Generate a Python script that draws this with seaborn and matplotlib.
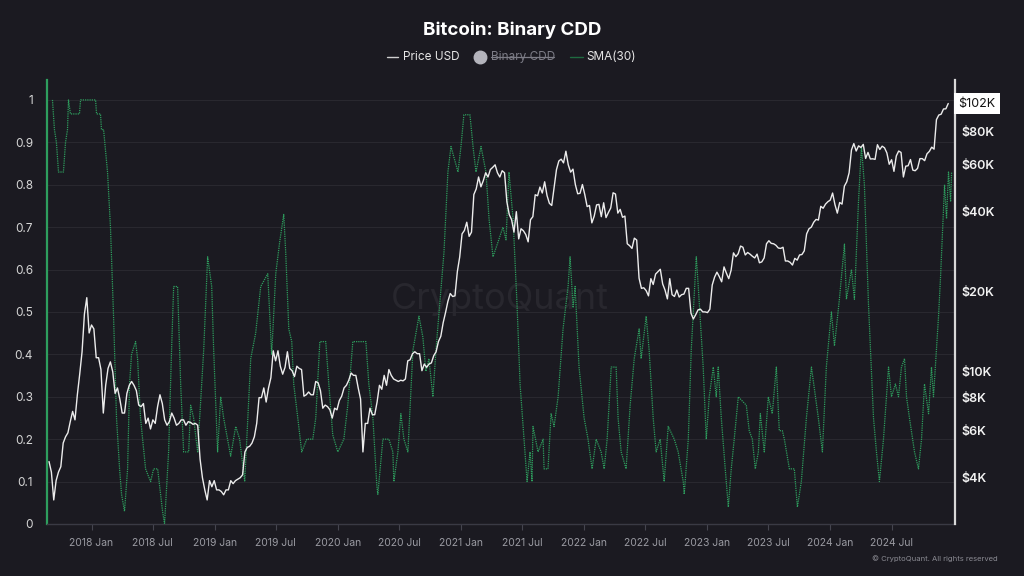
import matplotlib
matplotlib.use("Agg")
import matplotlib.pyplot as plt
from matplotlib.lines import Line2D
from matplotlib.ticker import NullLocator, NullFormatter
import numpy as np
import pandas as pd
import seaborn as sns

# Weekly BTC price (USD), Mondays starting 2017-08-28
price_2017 = [4600, 4200, 3300, 3900, 4200, 4400, 5400, 5700, 5900, 6500, 7100, 6600,
              8200, 9800, 11900, 16500, 19000, 14000]
price_2018 = [15000, 14500, 11300, 11300, 10200, 7000, 8900, 10300, 10900, 10000, 8300,
              8700, 7900, 7000, 7000, 8300, 8900, 9200, 8900, 8500, 7500, 7400, 7600,
              6400, 6700, 6100, 6600, 6400, 7400, 8200, 7600, 6600, 6300, 6500, 7000,
              6700, 6300, 6400, 6600, 6600, 6300, 6500, 6450, 6350, 6400, 6300, 4700,
              4000, 3600, 3300, 3900, 3700, 3900]
price_2019 = [3600, 3600, 3550, 3450, 3600, 3600, 3900, 3800, 3900, 3950, 4000, 4100,
              5000, 5200, 5250, 5400, 5700, 6400, 8000, 8000, 8700, 7700, 8700, 9500,
              12000, 11000, 12000, 10500, 9800, 10400, 11900, 10300, 10100, 9600, 10500,
              10300, 10200, 8100, 8200, 8400, 8200, 8200, 9200, 9100, 8500, 7300, 7500,
              7400, 7200, 6700, 7300, 7200]
price_2020 = [7800, 8100, 8700, 8900, 9300, 9900, 9700, 9700, 8700, 7900, 5000, 6400,
              6400, 7300, 6900, 6900, 7700, 8900, 8600, 9700, 8900, 10200, 9700, 9400,
              9300, 9200, 9300, 9250, 9400, 11000, 11100, 11700, 11900, 11700, 11700,
              10100, 10700, 10400, 10700, 10800, 11500, 11900, 13000, 13600, 15300,
              16700, 18400, 19700, 19200, 19300, 23800, 27000]
price_2021 = [33000, 34000, 36500, 32300, 33500, 46400, 48700, 54000, 49600, 52300,
              56000, 54000, 57600, 58700, 60000, 56000, 54000, 57000, 56000, 43500,
              39000, 37300, 33500, 40000, 31600, 34500, 33900, 32800, 30800, 37300,
              38300, 46300, 45900, 49500, 47000, 51800, 46000, 43000, 42200, 49100,
              57500, 62000, 63000, 61000, 67500, 60000, 56300, 57800, 50600, 46700,
              46900, 50600]
price_2022 = [46400, 41800, 42200, 36300, 38500, 42400, 42600, 38300, 43200, 38000,
              39700, 41300, 47100, 46600, 39500, 40800, 38100, 38500, 30300, 29800,
              29100, 31800, 31300, 22500, 20600, 20700, 20200, 19300, 22400, 21300,
              23300, 23800, 24300, 21400, 20300, 18800, 22400, 19500, 19200, 20300,
              19100, 19500, 19600, 20600, 20600, 16600, 15800, 16400, 17100, 17200,
              16800, 16800]
price_2023 = [16700, 17200, 21200, 22700, 23700, 22800, 21800, 24800, 23500, 22400,
              24100, 28000, 27100, 27800, 29700, 29400, 27500, 28100, 27700, 27200,
              26800, 27700, 25700, 25900, 26800, 30300, 31100, 30400, 30300, 29900,
              29200, 29100, 29400, 26100, 26100, 25800, 25200, 26700, 26300, 27500,
              27600, 28500, 33000, 34500, 35000, 36500, 37400, 37200, 41900, 41200,
              42700, 43600]
price_2024 = [44200, 47000, 42500, 39500, 43300, 42700, 49900, 51800, 56000, 68300,
              72100, 67600, 70700, 69700, 71600, 63400, 66800, 63100, 63200, 62900,
              71400, 68500, 70500, 69500, 66500, 60300, 62700, 56700, 64800, 67600,
              66800, 54000, 59300, 59500, 62800, 57300, 57000, 58200, 63300, 63300,
              62200, 66000, 67400, 69900, 68700, 88700, 92300, 93000, 97300, 97400,
              102000]

# Binary CDD, SMA(30): decimal year and value
cdd_year_2017 = [2017.683, 2017.699, 2017.715, 2017.732, 2017.772, 2017.789, 2017.805,
                 2017.813, 2017.829, 2017.902, 2017.911]
cdd_2017 = [1.0, 0.93, 0.90, 0.83, 0.83, 0.90, 0.93, 1.0, 0.967, 0.967, 1.0]
cdd_year_2018 = [2018.033, 2018.041, 2018.073, 2018.081, 2018.098, 2018.130, 2018.154,
                 2018.179, 2018.203, 2018.228, 2018.244, 2018.268, 2018.293, 2018.309,
                 2018.325, 2018.358, 2018.374, 2018.398, 2018.439, 2018.480, 2018.504,
                 2018.537, 2018.577, 2018.593, 2018.626, 2018.650, 2018.667, 2018.699,
                 2018.724, 2018.748, 2018.789, 2018.805, 2018.829, 2018.862, 2018.911,
                 2018.943, 2018.976, 2018.992]
cdd_2018 = [1.0, 0.967, 0.967, 0.93, 0.93, 0.83, 0.70, 0.49, 0.25, 0.13, 0.07, 0.03,
            0.13, 0.33, 0.40, 0.43, 0.39, 0.25, 0.13, 0.10, 0.13, 0.13, 0.03, 0.0,
            0.17, 0.41, 0.56, 0.56, 0.33, 0.17, 0.17, 0.28, 0.25, 0.17, 0.41, 0.63,
            0.56, 0.41]
cdd_year_2019 = [2019.024, 2019.049, 2019.073, 2019.130, 2019.171, 2019.203, 2019.244,
                 2019.293, 2019.333, 2019.374, 2019.431, 2019.463, 2019.496, 2019.528,
                 2019.561, 2019.577, 2019.602, 2019.626, 2019.642, 2019.675, 2019.707,
                 2019.748, 2019.797, 2019.821, 2019.854, 2019.902, 2019.927, 2019.959]
cdd_2019 = [0.17, 0.30, 0.25, 0.16, 0.23, 0.20, 0.10, 0.39, 0.45, 0.56, 0.59, 0.40,
            0.59, 0.665, 0.73, 0.64, 0.46, 0.43, 0.33, 0.25, 0.17, 0.20, 0.20, 0.25,
            0.43, 0.43, 0.33, 0.21]
cdd_year_2020 = [2020.000, 2020.049, 2020.081, 2020.122, 2020.228, 2020.252, 2020.285,
                 2020.317, 2020.325, 2020.366, 2020.415, 2020.447, 2020.455, 2020.488,
                 2020.512, 2020.537, 2020.569, 2020.610, 2020.659, 2020.691, 2020.715,
                 2020.740, 2020.772, 2020.797, 2020.862, 2020.894, 2020.919, 2020.976]
cdd_2020 = [0.17, 0.20, 0.28, 0.43, 0.43, 0.33, 0.25, 0.09, 0.07, 0.20, 0.20, 0.17,
            0.10, 0.17, 0.26, 0.20, 0.17, 0.41, 0.49, 0.44, 0.36, 0.39, 0.30, 0.41,
            0.64, 0.83, 0.89, 0.83]
cdd_year_2021 = [2021.000, 2021.024, 2021.073, 2021.098, 2021.122, 2021.163, 2021.203,
                 2021.228, 2021.260, 2021.301, 2021.341, 2021.366, 2021.390, 2021.423,
                 2021.455, 2021.480, 2021.512, 2021.537, 2021.561, 2021.577, 2021.585,
                 2021.626, 2021.667, 2021.675, 2021.707, 2021.732, 2021.756, 2021.789,
                 2021.829, 2021.870, 2021.886, 2021.911, 2021.927, 2021.959]
cdd_2021 = [0.89, 0.965, 0.965, 0.89, 0.83, 0.89, 0.83, 0.72, 0.63, 0.665, 0.70, 0.67,
            0.83, 0.72, 0.52, 0.33, 0.20, 0.10, 0.17, 0.10, 0.23, 0.17, 0.20, 0.13,
            0.13, 0.26, 0.23, 0.30, 0.46, 0.56, 0.63, 0.51, 0.56, 0.37]
cdd_year_2022 = [2022.000, 2022.032, 2022.065, 2022.098, 2022.138, 2022.163, 2022.187,
                 2022.220, 2022.260, 2022.276, 2022.301, 2022.341, 2022.374, 2022.407,
                 2022.447, 2022.463, 2022.504, 2022.528, 2022.561, 2022.585, 2022.618,
                 2022.650, 2022.683, 2022.732, 2022.764, 2022.805, 2022.813, 2022.846,
                 2022.870, 2022.911, 2022.927, 2022.967, 2022.992]
cdd_2022 = [0.25, 0.20, 0.13, 0.20, 0.17, 0.13, 0.20, 0.37, 0.37, 0.25, 0.17, 0.13,
            0.28, 0.39, 0.46, 0.39, 0.49, 0.41, 0.25, 0.17, 0.20, 0.10, 0.23, 0.20,
            0.17, 0.10, 0.07, 0.20, 0.41, 0.63, 0.56, 0.37, 0.20]
cdd_year_2023 = [2023.016, 2023.049, 2023.073, 2023.089, 2023.114, 2023.146, 2023.171,
                 2023.195, 2023.219, 2023.252, 2023.317, 2023.341, 2023.366, 2023.390,
                 2023.415, 2023.431, 2023.463, 2023.496, 2023.528, 2023.561, 2023.585,
                 2023.610, 2023.626, 2023.667, 2023.707, 2023.732, 2023.764, 2023.805,
                 2023.846, 2023.902, 2023.935, 2023.967]
cdd_2023 = [0.30, 0.37, 0.30, 0.37, 0.25, 0.13, 0.04, 0.13, 0.20, 0.30, 0.28, 0.22,
            0.20, 0.13, 0.17, 0.26, 0.17, 0.30, 0.26, 0.37, 0.22, 0.22, 0.20, 0.13,
            0.13, 0.04, 0.10, 0.25, 0.37, 0.25, 0.17, 0.37]
cdd_year_2024 = [2024.008, 2024.033, 2024.073, 2024.114, 2024.130, 2024.171, 2024.195,
                 2024.228, 2024.252, 2024.276, 2024.309, 2024.350, 2024.374, 2024.398,
                 2024.431, 2024.455, 2024.472, 2024.496, 2024.528, 2024.553, 2024.577,
                 2024.602, 2024.618, 2024.642, 2024.683, 2024.715, 2024.740, 2024.764,
                 2024.797, 2024.821, 2024.837, 2024.878, 2024.894, 2024.927, 2024.943,
                 2024.959, 2024.976, 2024.984]
cdd_2024 = [0.50, 0.42, 0.53, 0.66, 0.53, 0.60, 0.53, 0.76, 0.89, 0.80, 0.52, 0.25,
            0.17, 0.10, 0.20, 0.30, 0.37, 0.30, 0.33, 0.30, 0.37, 0.39, 0.30, 0.25,
            0.17, 0.13, 0.20, 0.33, 0.26, 0.37, 0.30, 0.49, 0.58, 0.80, 0.72, 0.83,
            0.76, 0.83]

cdd_ticks = [0, 0.1, 0.2, 0.3, 0.4, 0.5, 0.6, 0.7, 0.8, 0.9, 1.0]
cdd_tick_labels = ["0", "0.1", "0.2", "0.3", "0.4", "0.5", "0.6", "0.7", "0.8", "0.9", "1"]
price_ticks = [4000, 6000, 8000, 10000, 20000, 40000, 60000, 80000]
price_tick_labels = ["$4K", "$6K", "$8K", "$10K", "$20K", "$40K", "$60K", "$80K"]
last_price_label = "$102K"

# assemble series
price = (price_2017 + price_2018 + price_2019 + price_2020 + price_2021 + price_2022
         + price_2023 + price_2024)
price_dates = pd.date_range("2017-08-28", periods=len(price), freq="W-MON")

cdd_year = np.array(cdd_year_2017 + cdd_year_2018 + cdd_year_2019 + cdd_year_2020
                    + cdd_year_2021 + cdd_year_2022 + cdd_year_2023 + cdd_year_2024)
cdd = cdd_2017 + cdd_2018 + cdd_2019 + cdd_2020 + cdd_2021 + cdd_2022 + cdd_2023 + cdd_2024
cdd_dates = pd.Timestamp("2018-01-01") + pd.to_timedelta((cdd_year - 2018) * 365.25, unit="D")

x_ticks = pd.date_range("2018-01-01", "2024-07-01", freq="6MS")
x_tick_labels = [d.strftime("%Y %b") for d in x_ticks]

BG = "#1b1a21"
GREEN = "#2e9e5e"
GRID = "#29282f"

sns.set_theme(style="dark")
plt.rcParams["font.family"] = ["Inter", "DejaVu Sans"]

fig = plt.figure(figsize=(10.24, 5.76), dpi=100, facecolor=BG)
ax = fig.add_axes([0.0459, 0.0903, 0.8867, 0.7708])
ax.set_facecolor(BG)
ax2 = ax.twinx()

ax.text(0.499, 0.505, "CryptoQuant", transform=ax.transAxes, fontsize=26,
        color="#28272e", ha="center", va="center", zorder=0)

sns.lineplot(x=cdd_dates, y=cdd, ax=ax, color=GREEN, linewidth=0.9,
             linestyle=(0, (1, 0.8)))
sns.lineplot(x=price_dates, y=price, ax=ax2, color="#ececec", linewidth=1.0)

ax.set_xlim(pd.Timestamp("2017-08-22"), pd.Timestamp("2025-01-05"))
ax.set_ylim(0, 1.047)
ax2.set_yscale("log")
ax2.set_ylim(2680, 125000)

ax.set_xlabel("")
ax.set_ylabel("")
ax2.set_ylabel("")

ax.set_yticks(cdd_ticks)
ax.set_yticklabels(cdd_tick_labels, color="#d6d6d6", fontsize=8.5)
ax.tick_params(axis="y", length=0, pad=10)
ax.set_xticks(x_ticks)
ax.set_xticklabels(x_tick_labels, color="#9a9aa2", fontsize=7.5)
ax.tick_params(axis="x", length=4, width=0.8, color="#45454f", pad=6, direction="out",
               bottom=True)

ax2.yaxis.set_minor_locator(NullLocator())
ax2.yaxis.set_minor_formatter(NullFormatter())
ax2.set_yticks(price_ticks)
ax2.set_yticklabels(price_tick_labels, color="#f2f2f2", fontsize=9, fontweight="semibold")
ax2.tick_params(axis="y", length=0, pad=5)

ax.grid(axis="y", color=GRID, linewidth=0.8)
ax.grid(axis="x", visible=False)
ax2.grid(False)

for side in ["top", "right"]:
    ax.spines[side].set_visible(False)
ax.spines["left"].set_color(GREEN)
ax.spines["left"].set_linewidth(1.6)
ax.spines["bottom"].set_color("#3a3a44")
ax.spines["bottom"].set_linewidth(1.0)
for side in ["top", "left", "bottom"]:
    ax2.spines[side].set_visible(False)
ax2.spines["right"].set_color("#d8d8d8")
ax2.spines["right"].set_linewidth(1.6)

# current price tag
ax2.text(1.004, price[-1], last_price_label, transform=ax2.get_yaxis_transform(),
         ha="left", va="center", fontsize=9, color="#111111",
         bbox=dict(boxstyle="square,pad=0.35", fc="white", ec="none"))

# title and legend
fig.text(0.5, 0.948, "Bitcoin: Binary CDD", ha="center", va="center", fontsize=13.5,
         fontweight="bold", color="white")
ly = 0.901
fig.add_artist(Line2D([387 / 1024, 398 / 1024], [ly, ly], color="#cfcfcf", lw=1,
                      transform=fig.transFigure))
fig.text(403 / 1024, ly, "Price USD", ha="left", va="center", fontsize=8.5, color="#e6e6e6")
fig.add_artist(Line2D([480 / 1024], [ly], marker="o", markersize=9, color="#b4b4bc",
                      lw=0, transform=fig.transFigure))
fig.text(491 / 1024, ly, "Binary CDD", ha="left", va="center", fontsize=8.5, color="#7c7c86")
fig.add_artist(Line2D([491 / 1024, 554 / 1024], [ly, ly], color="#7c7c86", lw=0.9,
                      transform=fig.transFigure))
fig.add_artist(Line2D([570 / 1024, 583 / 1024], [ly, ly], color="#1f6b40", lw=1,
                      transform=fig.transFigure))
fig.text(586 / 1024, ly, "SMA(30)", ha="left", va="center", fontsize=8.5, color="#e6e6e6")

fig.text(0.974, 0.031, "© CryptoQuant. All rights reserved", ha="right", va="center",
         fontsize=5.5, color="#8a8a92")

fig.savefig("out.png", dpi=100, facecolor=BG)
